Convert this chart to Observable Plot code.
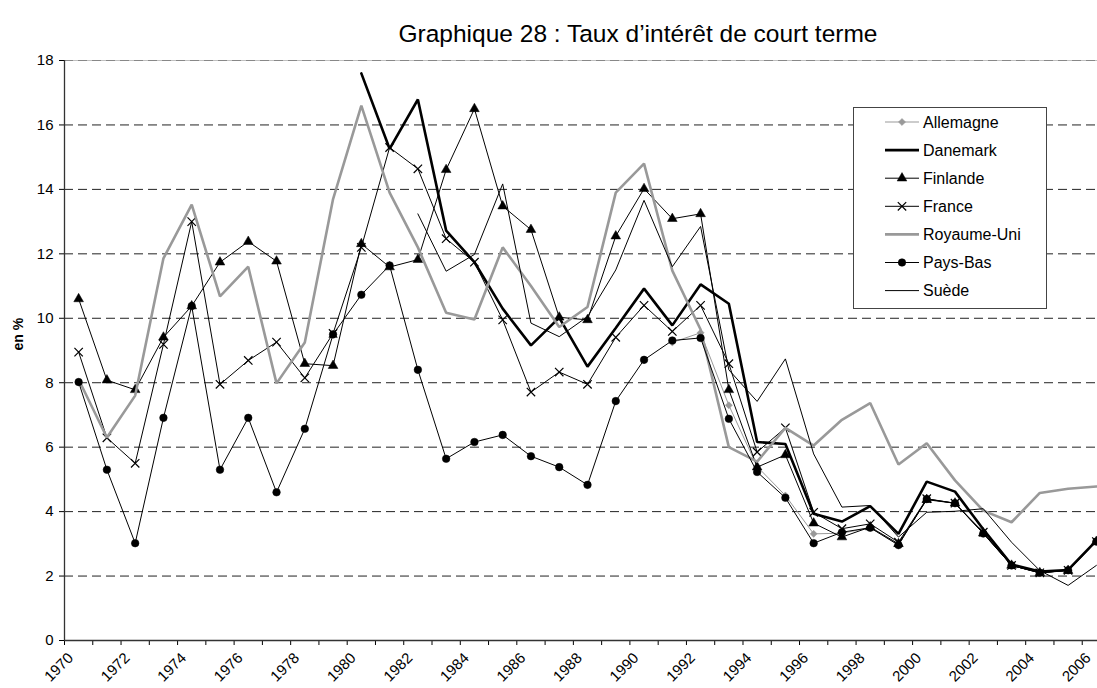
<!DOCTYPE html>
<html><head><meta charset="utf-8">
<script src="https://cdn.jsdelivr.net/npm/d3@7"></script>
<script src="https://cdn.jsdelivr.net/npm/@observablehq/plot@0.6"></script>
<style>
html,body{margin:0;padding:0;background:#fff;overflow:hidden;width:1097px;height:688px}
#wrap{position:relative;width:1097px;height:688px;overflow:hidden}
#title{position:absolute;left:0;top:22px;width:1276px;text-align:center;font:24.5px "Liberation Sans",Arial,sans-serif;color:#000;line-height:1;white-space:nowrap}
#chart{position:absolute;left:0;top:0}
</style></head><body><div id="wrap"><div id="chart"></div><div id="title">Graphique 28 : Taux d’intérêt de court terme</div></div>
<script>
const years = [1970,1971,1972,1973,1974,1975,1976,1977,1978,1979,1980,1981,1982,1983,1984,1985,1986,1987,1988,1989,1990,1991,1992,1993,1994,1995,1996,1997,1998,1999,2000,2001,2002,2003,2004,2005,2006];
const xBoundaries = [1970,1971,1972,1973,1974,1975,1976,1977,1978,1979,1980,1981,1982,1983,1984,1985,1986,1987,1988,1989,1990,1991,1992,1993,1994,1995,1996,1997,1998,1999,2000,2001,2002,2003,2004,2005,2006,2007];
const xTickLabels = [1970,1972,1974,1976,1978,1980,1982,1984,1986,1988,1990,1992,1994,1996,1998,2000,2002,2004,2006];
const yTicks = [0,2,4,6,8,10,12,14,16,18];

const allemagne = [null,null,null,null,null,null,null,null,null,null,null,null,null,null,null,null,null,null,null,null,null,9.25,9.55,7.3,5.4,4.5,3.31,3.33,3.5,2.97,4.39,4.26,3.32,2.33,2.11,2.18,3.08];
const danemark = [null,null,null,null,null,null,null,null,null,null,17.6,15.26,16.79,12.72,11.74,10.3,9.16,10.02,8.5,9.7,10.92,9.78,11.05,10.45,6.16,6.1,3.93,3.69,4.17,3.31,4.93,4.62,3.45,2.36,2.14,2.19,3.1];
const finlande = [10.6,8.08,7.78,9.41,10.38,11.74,12.38,11.77,8.59,8.53,12.31,11.59,11.82,14.61,16.5,13.48,12.75,10.03,9.95,12.55,14.02,13.09,13.24,7.78,5.38,5.76,3.64,3.21,3.52,3.0,4.37,4.26,3.33,2.33,2.1,2.17,3.07];
const france = [8.95,6.29,5.5,9.19,13.0,7.95,8.69,9.26,8.15,9.53,12.2,15.3,14.64,12.47,11.74,9.95,7.71,8.33,7.95,9.41,10.4,9.59,10.4,8.59,5.85,6.6,3.98,3.47,3.62,3.05,4.4,4.26,3.36,2.33,2.1,2.18,3.07];
const royaumeUni = [8.1,6.3,7.6,11.86,13.53,10.68,11.6,7.98,9.25,13.7,16.6,13.9,12.2,10.17,9.96,12.2,11.0,9.73,10.35,13.9,14.8,11.48,9.65,6.0,5.55,6.6,6.05,6.85,7.37,5.46,6.12,4.97,4.03,3.67,4.58,4.71,4.78];
const paysBas = [8.02,5.3,3.02,6.91,10.38,5.3,6.91,4.6,6.57,9.5,10.73,11.64,8.4,5.64,6.16,6.38,5.72,5.38,4.83,7.43,8.71,9.31,9.39,6.88,5.23,4.43,3.02,3.36,3.5,2.96,4.39,4.26,3.32,2.33,2.1,2.18,3.07];
const suede = [null,null,null,null,null,null,null,null,null,null,null,null,13.24,11.46,11.98,14.17,9.85,9.43,10.05,11.5,13.66,11.6,12.85,8.4,7.42,8.74,5.79,4.14,4.19,3.21,3.98,4.01,4.09,3.05,2.17,1.71,2.33];

const seriesNames = ["Allemagne","Danemark","Finlande","France","Royaume-Uni","Pays-Bas","Suède"];
const seriesValues = [allemagne, danemark, finlande, france, royaumeUni, paysBas, suede];

const styles = {
  "Allemagne":   {stroke:"#999999", strokeWidth:1,   symbol:"diamond2", fill:"#999999", r:3.2},
  "Danemark":    {stroke:"#000000", strokeWidth:2.6, symbol:null},
  "Finlande":    {stroke:"#000000", strokeWidth:1,   symbol:"triangle", fill:"#000000", r:3.6},
  "France":      {stroke:"#000000", strokeWidth:1,   symbol:"times", fill:"none", r:3.9},
  "Royaume-Uni": {stroke:"#999999", strokeWidth:2.6, symbol:null},
  "Pays-Bas":    {stroke:"#000000", strokeWidth:1,   symbol:"circle", fill:"#000000", r:3.8},
  "Suède":       {stroke:"#000000", strokeWidth:1,   symbol:null}
};

const rows = seriesNames.flatMap((name, i) =>
  years.map((yr, j) => ({series: name, year: yr, value: seriesValues[i][j]}))
).filter(d => d.value != null);

const font = '"Liberation Sans", Arial, sans-serif';
const xc = d => d.year + 0.5;

const marks = [
  Plot.ruleY([18], {stroke: "#c0c0c0", strokeWidth: 1}),
  Plot.ruleY(yTicks.filter(v => v > 0 && v < 18), {stroke: "#222", strokeWidth: 1, strokeDasharray: "9,5"}),
  Plot.ruleY([18], {stroke: "#888", strokeWidth: 1, strokeDasharray: "9,5"}),
  Plot.axisY({ticks: yTicks, tickSize: 5, tickPadding: 6, fontSize: 15, label: null, tickFormat: d => String(d)}),
  Plot.axisX({ticks: xBoundaries, tickSize: 5, tickFormat: () => "", label: null}),
  Plot.text(xTickLabels, {x: d => d + 0.5, frameAnchor: "bottom", text: d => String(d), rotate: -45, textAnchor: "end", lineAnchor: "middle", dx: -8, dy: 15, fontSize: 15, fill: "#000"}),
  Plot.ruleX([1970], {stroke: "#333", strokeWidth: 1.3}),
  Plot.ruleY([0], {stroke: "#333", strokeWidth: 1.3}),
  Plot.text(["en %"], {frameAnchor: "left", text: d => d, rotate: -90, dx: -46, fontSize: 14, fontWeight: "bold", fill: "#000"})
];

for (const name of seriesNames) {
  const s = styles[name];
  const data = rows.filter(d => d.series === name);
  marks.push(Plot.line(data, {x: xc, y: "value", stroke: s.stroke, strokeWidth: s.strokeWidth, strokeLinejoin: "miter"}));
  if (s.symbol) {
    marks.push(Plot.dot(data, {x: xc, y: "value", symbol: () => s.symbol, r: s.r,
      fill: s.fill, stroke: s.symbol === "times" ? "#000" : s.fill, strokeWidth: s.symbol === "times" ? 1.2 : 0.5}));
  }
}

const chart = Plot.plot({
  width: 1110,
  height: 688,
  marginLeft: 64,
  marginRight: 0,
  marginTop: 60,
  marginBottom: 48,
  x: {domain: [1970, 2007], range: [64, 1110], axis: null},
  y: {domain: [0, 18], axis: null},
  symbol: {type: "identity"},
  style: {fontFamily: font, background: "white", maxWidth: "none", overflow: "visible"},
  marks
});
chart.style.maxWidth = "none";
document.getElementById("chart").appendChild(chart);

// Legend box inside the plot area
const svg = d3.select(chart);
const lg = svg.append("g").attr("font-family", font).attr("font-size", 16).attr("text-anchor", "start");
lg.append("rect").attr("x", 853.5).attr("y", 107.5).attr("width", 193).attr("height", 201)
  .attr("fill", "white").attr("stroke", "#444").attr("stroke-width", 1);
const symMap = {diamond2: d3.symbolDiamond2, triangle: d3.symbolTriangle, times: d3.symbolTimes, circle: d3.symbolCircle};
seriesNames.forEach((name, i) => {
  const s = styles[name];
  const y = 122 + i * 28.1;
  lg.append("line").attr("x1", 885).attr("x2", 919).attr("y1", y).attr("y2", y)
    .attr("stroke", s.stroke).attr("stroke-width", s.strokeWidth);
  if (s.symbol) {
    const path = d3.symbol(symMap[s.symbol], Math.PI * s.r * s.r)();
    lg.append("path").attr("d", path).attr("transform", `translate(902,${y})`)
      .attr("fill", s.fill).attr("stroke", s.symbol === "times" ? "#000" : s.fill)
      .attr("stroke-width", s.symbol === "times" ? 1.2 : 0.5);
  }
  lg.append("text").attr("x", 923).attr("y", y).attr("dy", "0.35em").attr("fill", "#000")
    .attr("text-anchor", "start").text(name);
});
</script>
</body></html>
